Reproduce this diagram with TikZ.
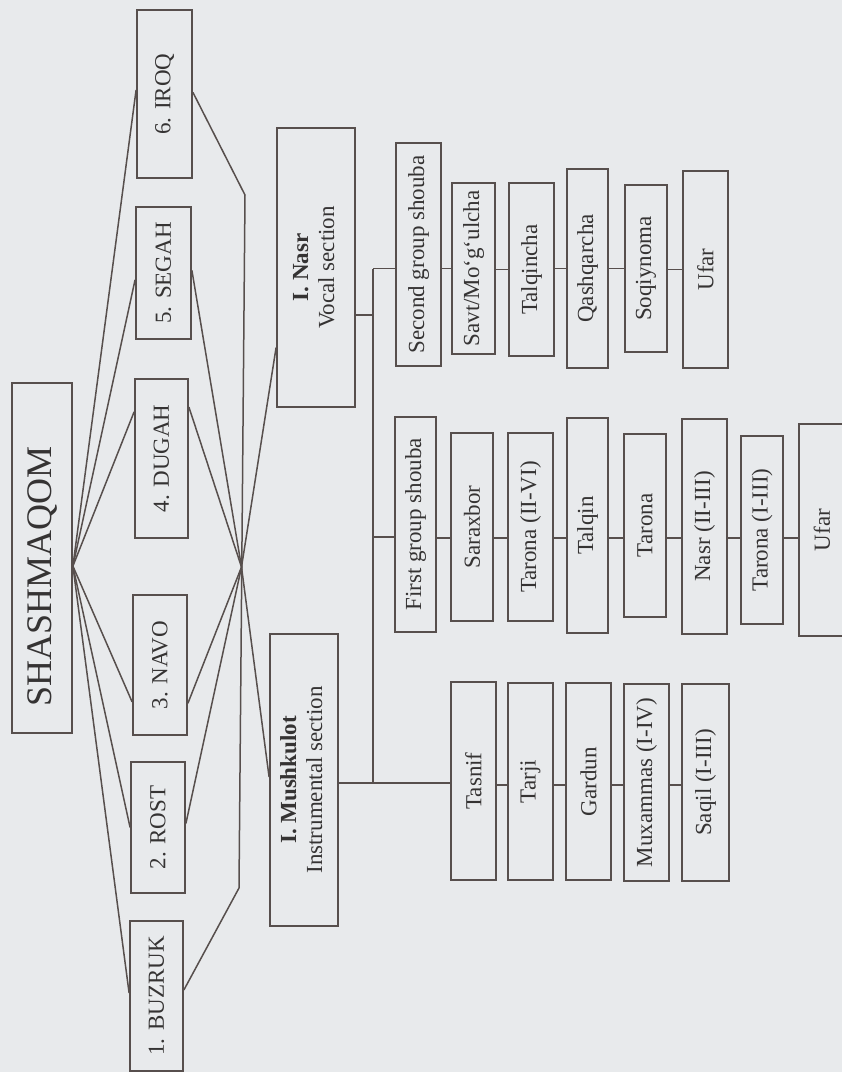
\documentclass[tikz,border=0pt]{standalone}
\usepackage{fontspec}
\setmainfont{Liberation Serif}
\usetikzlibrary{calc}
\definecolor{bg}{HTML}{E8EAEC}
\definecolor{ln}{HTML}{574F4D}
\definecolor{tx}{HTML}{353333}
\tikzset{
  box/.style={draw=ln, line width=1.8pt, inner sep=0pt, text=tx, font=\fontsize{23}{26}\selectfont},
  conn/.style={draw=ln, line width=1.5pt},
}
\newcommand{\bx}[6]{\node[box, minimum width=#4pt, minimum height=#5pt] (#1) at (#2,#3) {\rotatebox{90}{#6}};}
\begin{document}
\begin{tikzpicture}[x=1pt,y=-1pt]
\fill[bg] (0,0) rectangle (842,1072);
\useasboundingbox (0,0) rectangle (842,1072);
% main
\bx{shash}{42}{558}{60}{350}{\fontsize{36}{40}\selectfont SHASHMAQOM\hspace*{36pt}}
% modes
\bx{iroq}{164.5}{94}{55}{168}{6. IROQ}
\bx{segah}{163.5}{273}{55}{132}{5. SEGAH}
\bx{dugah}{161.5}{458.5}{53}{159}{4. DUGAH}
\bx{navo}{160}{665}{54}{140}{3. NAVO}
\bx{rost}{158}{827.5}{54}{131}{2. ROST}
\bx{buzruk}{156.5}{996}{53}{150}{1. BUZRUK}
% sections
\bx{nasr}{316}{267.5}{78}{279}{\begin{tabular}{@{}c@{}}\textbf{I. Nasr}\\Vocal section\end{tabular}}
\bx{mush}{304}{780}{68}{292}{\begin{tabular}{@{}c@{}}\textbf{I. Mushkulot}\\Instrumental section\end{tabular}}
% second group row
\bx{sg}{418.5}{254.5}{45}{223}{Second group shouba}
\bx{savt}{473.5}{268.5}{43}{171}{Savt/Mo‘g‘ulcha}
\bx{talqincha}{531.5}{269.5}{45}{173}{Talqincha}
\bx{qash}{587.5}{268.5}{41}{199}{Qashqarcha}
\bx{soqi}{646}{268.5}{42}{167}{Soqiynoma}
\bx{ufarb}{705.5}{269.5}{45}{197}{Ufar}
% first group row
\bx{fg}{415.5}{524.5}{41}{215}{First group shouba}
\bx{sarax}{472}{527}{42}{188}{Saraxbor}
\bx{tarA}{530.5}{527}{45}{188}{Tarona (II-VI)}
\bx{talqin}{587.5}{525.5}{41}{215}{Talqin}
\bx{tarB}{645}{525.5}{42}{183}{Tarona}
\bx{nasrB}{704.5}{526.5}{45}{215}{Nasr (II-III)}
\bx{tarC}{762}{530}{42}{188}{Tarona (I-III)}
\bx{ufara}{822}{530}{46}{212}{Ufar}
% instrumental row
\bx{tasnif}{473.5}{781}{45}{198}{Tasnif}
\bx{tarji}{530.5}{781.5}{45}{197}{Tarji}
\bx{gardun}{588.5}{781.5}{45}{197}{Gardun}
\bx{mux}{646.5}{782.5}{45}{197}{Muxammas (I-IV)}
\bx{saqil}{705.5}{782.5}{47}{197}{Saqil (I-III)}
% left hub
\coordinate (lh) at ($(shash.north east)!0.523!(shash.south east)$);
\draw[conn] (lh) -- ($(iroq.north west)!0.476!(iroq.south west)$);
\draw[conn] (lh) -- ($(segah.north west)!0.55!(segah.south west)$);
\draw[conn] (lh) -- ($(dugah.north west)!0.21!(dugah.south west)$);
\draw[conn] (lh) -- ($(navo.north west)!0.76!(navo.south west)$);
\draw[conn] (lh) -- ($(rost.north west)!0.5!(rost.south west)$);
\draw[conn] (lh) -- ($(buzruk.north west)!0.48!(buzruk.south west)$);
% right hub and bracket
\coordinate (rh) at (241.5,567);
\coordinate (brT) at (245,195);
\coordinate (brB) at (239,888);
\draw[conn] ($(iroq.north east)!0.49!(iroq.south east)$) -- (brT) -- (brB) -- ($(buzruk.north east)!0.46!(buzruk.south east)$);
\draw[conn] ($(segah.north east)!0.48!(segah.south east)$) -- (rh);
\draw[conn] ($(dugah.north east)!0.18!(dugah.south east)$) -- (rh);
\draw[conn] ($(navo.north east)!0.77!(navo.south east)$) -- (rh);
\draw[conn] ($(rost.north east)!0.47!(rost.south east)$) -- (rh);
\draw[conn] (rh) -- ($(nasr.north west)!0.785!(nasr.south west)$);
\draw[conn] (rh) -- ($(mush.north west)!0.49!(mush.south west)$);
% trunk
\coordinate (tTop) at (373,268.5);
\coordinate (tBot) at (373,783);
\coordinate (tFG) at (373,537);
\coordinate (nasrR) at ($(nasr.north east)!0.67!(nasr.south east)$);
\draw[conn] (tTop) -- (tBot);
\draw[conn] (nasrR) -- (nasrR -| tTop);
\draw[conn] (tTop) -- (tTop -| sg.west);
\draw[conn] (tFG) -- (tFG -| fg.west);
\draw[conn] (mush.east |- tBot) -- (tasnif.west |- tBot);
% second row chain
\draw[conn] (sg.east |- savt.west) -- (savt.west);
\draw[conn] (savt.east |- talqincha.west) -- (talqincha.west);
\draw[conn] (talqincha.east |- qash.west) -- (qash.west);
\draw[conn] (qash.east |- soqi.west) -- (soqi.west);
\draw[conn] (soqi.east |- ufarb.west) -- (ufarb.west);
% first row chain
\coordinate (r1) at (600,538);
\draw[conn] (fg.east |- r1) -- (sarax.west |- r1);
\draw[conn] (sarax.east |- r1) -- (tarA.west |- r1);
\draw[conn] (tarA.east |- r1) -- (talqin.west |- r1);
\draw[conn] (talqin.east |- r1) -- (tarB.west |- r1);
\draw[conn] (tarB.east |- r1) -- (nasrB.west |- r1);
\draw[conn] (nasrB.east |- r1) -- (tarC.west |- r1);
\draw[conn] (tarC.east |- r1) -- (ufara.west |- r1);
% instrumental chain
\coordinate (r3) at (600,785);
\draw[conn] (tasnif.east |- r3) -- (tarji.west |- r3);
\draw[conn] (tarji.east |- r3) -- (gardun.west |- r3);
\draw[conn] (gardun.east |- r3) -- (mux.west |- r3);
\draw[conn] (mux.east |- r3) -- (saqil.west |- r3);
\end{tikzpicture}
\end{document}
